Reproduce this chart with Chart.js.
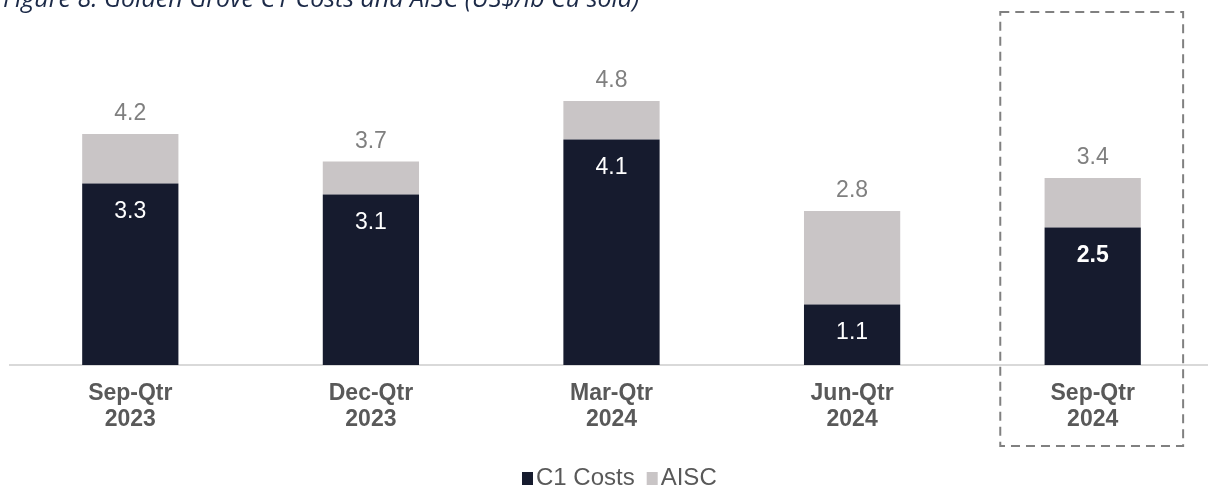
<!DOCTYPE html>
<html>
<head>
<meta charset="utf-8">
<script src="https://cdn.jsdelivr.net/npm/chart.js@4.4.1/dist/chart.umd.min.js"></script>
<style>
  html, body { margin: 0; padding: 0; background: #ffffff; overflow: hidden; }
  #wrap { position: relative; width: 1220px; height: 489px; }
  #title { position: absolute; left: 3px; top: -16px; font-family: "Open Sans", "Liberation Sans", sans-serif; font-style: italic; font-size: 25px; line-height: 26px; color: #1c2a48; white-space: nowrap; z-index: 2; }
  canvas { position: absolute; left: 0; top: 0; }
</style>
</head>
<body>
<div id="wrap">
  <div id="title">Figure 8: Golden Grove C1 Costs and AISC (US$/lb Cu sold)</div>
  <canvas id="c" width="1220" height="489"></canvas>
</div>
<script>
// ---- data ----
const categories = [["Sep-Qtr", "2023"], ["Dec-Qtr", "2023"], ["Mar-Qtr", "2024"], ["Jun-Qtr", "2024"], ["Sep-Qtr", "2024"]];
const c1Costs = [3.3, 3.1, 4.1, 1.1, 2.5];
const aiscTotals = [4.2, 3.7, 4.8, 2.8, 3.4];
const seriesNames = ["C1 Costs", "AISC"];
const highlightIndex = 4;

const aiscIncrement = aiscTotals.map((t, i) => Math.round((t - c1Costs[i]) * 10) / 10);

const C1_COLOR = "#161b2e";
const AISC_COLOR = "#c9c5c6";
const FONT = '"Liberation Sans", Arial, sans-serif';

const labelPlugin = {
  id: "labels",
  afterDatasetsDraw(chart) {
    const ctx = chart.ctx;
    const m0 = chart.getDatasetMeta(0);
    const m1 = chart.getDatasetMeta(1);
    ctx.save();
    ctx.textAlign = "center";
    ctx.textBaseline = "alphabetic";
    m0.data.forEach((bar, i) => {
      ctx.fillStyle = "#ffffff";
      ctx.font = (i === highlightIndex ? "bold " : "") + "23px " + FONT;
      ctx.fillText(c1Costs[i].toFixed(1), bar.x, bar.y + 34);
    });
    m1.data.forEach((bar, i) => {
      ctx.fillStyle = "#7f7f7f";
      ctx.font = "23px " + FONT;
      ctx.fillText(aiscTotals[i].toFixed(1), bar.x, bar.y - 14);
    });
    ctx.restore();
  },
  afterDraw(chart) {
    const ctx = chart.ctx;
    const xs = chart.scales.x;
    // dashed highlight box around the latest quarter
    const cx = xs.getPixelForValue(highlightIndex);
    const half = (xs.getPixelForValue(1) - xs.getPixelForValue(0)) * 0.38;
    ctx.save();
    ctx.strokeStyle = "#808080";
    ctx.lineWidth = 2;
    ctx.setLineDash([9, 6]);
    ctx.strokeRect(cx - half - 1, 12, half * 2, 434);
    ctx.restore();

    // legend
    ctx.save();
    ctx.font = "24px " + FONT;
    ctx.textBaseline = "alphabetic";
    ctx.textAlign = "left";
    const colors = [C1_COLOR, AISC_COLOR];
    let x = 522;
    const baseline = 485;
    seriesNames.forEach((name, i) => {
      ctx.fillStyle = colors[i];
      ctx.fillRect(x, baseline - 13, 11, 13);
      x += 14;
      ctx.fillStyle = "#595959";
      ctx.fillText(name, x, baseline);
      x += ctx.measureText(name).width + 12;
    });
    ctx.restore();
  }
};

new Chart(document.getElementById("c"), {
  type: "bar",
  data: {
    labels: categories,
    datasets: [
      { label: seriesNames[0], data: c1Costs, backgroundColor: C1_COLOR, barPercentage: 0.4, categoryPercentage: 1.0 },
      { label: seriesNames[1], data: aiscIncrement, backgroundColor: AISC_COLOR, barPercentage: 0.4, categoryPercentage: 1.0 }
    ]
  },
  options: {
    responsive: false,
    devicePixelRatio: 1,
    animation: false,
    layout: { padding: { left: 10, right: 7, top: 35, bottom: 0 } },
    plugins: { legend: { display: false }, tooltip: { enabled: false }, title: { display: false } },
    scales: {
      x: {
        stacked: true,
        grid: { display: false, drawTicks: false },
        border: { display: true, color: "#d9d9d9", width: 2 },
        ticks: { color: "#595959", font: { family: FONT, size: 23, weight: "bold", lineHeight: 1.12 }, padding: 16, maxRotation: 0, autoSkip: false },
        afterFit(scale) { scale.height = 124; }
      },
      y: {
        stacked: true,
        display: false,
        min: 0,
        max: 6
      }
    }
  },
  plugins: [labelPlugin]
});
</script>
</body>
</html>
